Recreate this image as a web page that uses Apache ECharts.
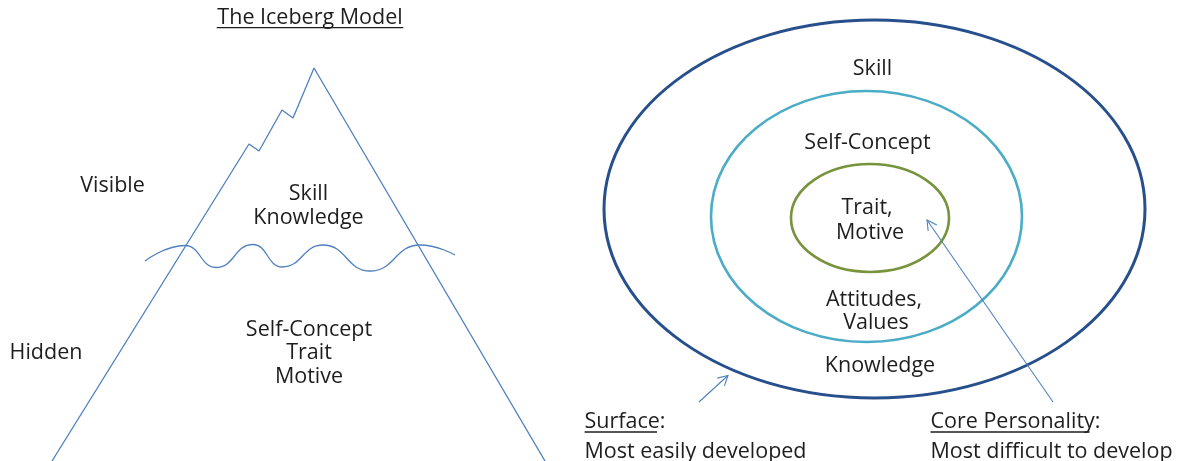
<!DOCTYPE html>
<html>
<head>
<meta charset="utf-8">
<script src="https://cdn.jsdelivr.net/npm/echarts@6/dist/echarts.min.js"></script>
<style>
html,body{margin:0;padding:0;background:#fff;}
#chart{width:1184px;height:461px;}
</style>
</head>
<body>
<div id="chart"></div>
<script>
// ---- data (diagram units = picture pixels, y downward) ----
const icebergOutline = [[52,461],[249,144],[259,151],[282,110],[293,118],[314,68],[545,461]];
const waterline = [[145,261],[185,245.5],[216,267.5],[253,244.5],[282,267],[323,245],[370,271],[420,245],[455,255]];

const ringNames   = ['Surface', 'Middle', 'Core'];
const ringCenterX = [874.5, 866.5, 870];
const ringCenterY = [209, 216.5, 218];
const ringRadiusX = [270.5, 155.5, 79];
const ringRadiusY = [189, 125.5, 54];

const labelTexts = ['The Iceberg Model','Visible','Skill','Knowledge','Self-Concept','Trait','Motive','Hidden',
                    'Skill','Self-Concept','Trait,','Motive','Attitudes,','Values','Knowledge',
                    'Surface:','Most easily developed','Core Personality:','Most difficult to develop'];
const labelX = [310,112.5,308.5,308.5,309,309,309,46, 872.5,867.5,867,870,874,876,880, 584.5,584.5,930.5,930.5];
const labelY = [18,186,194,218,330,353,377,353, 69,143,208,233,300,323,366, 421.6,451.7,421.6,451.7];
const labelLeft = [0,0,0,0,0,0,0,0, 0,0,0,0,0,0,0, 1,1,1,1];

const underlineStart = [216.7, 584.6, 930.5];
const underlineEnd   = [403.3, 657, 1089.6];
const underlineY     = [27.7, 432, 432];

const arrowTail = [[699,402],[1053,402]];
const arrowTip  = [[728,375.5],[927,220]];

// ---- styles ----
const ringColors = ['#264f8c', '#4bacc6', '#77933c'];
const ringWidths = [3, 2.6, 2.6];
const lineBlue = '#4f81bd';
const textColor = '#1e1e1e';
const FONT = '"Open Sans", "Noto Sans", sans-serif';
const ELLIPSE_PATH = 'M0,50 C0,22.386 22.386,0 50,0 C77.614,0 100,22.386 100,50 C100,77.614 77.614,100 50,100 C22.386,100 0,77.614 0,50 Z';

const chart = echarts.init(document.getElementById('chart'), null, {renderer:'canvas'});

const option = {
  animation: false,
  backgroundColor: '#ffffff',
  grid: {left:0, right:0, top:0, bottom:0},
  xAxis: {type:'value', min:0, max:1184, show:false},
  yAxis: {type:'value', min:0, max:461, inverse:true, show:false},
  series: [
    {
      type:'line', name:'iceberg', data: icebergOutline, symbol:'none', silent:true,
      lineStyle:{color:lineBlue, width:1.3}
    },
    {
      type:'line', name:'waterline', data: waterline, symbol:'none', smooth:0.5, smoothMonotone:'x', silent:true,
      lineStyle:{color:lineBlue, width:1.3}
    },
    {
      type:'custom', name:'rings', silent:true,
      data: ringNames.map((n,i)=>[ringCenterX[i], ringCenterY[i], ringRadiusX[i], ringRadiusY[i]]),
      renderItem: function(params, api){
        const cx=api.value(0), cy=api.value(1), rx=api.value(2), ry=api.value(3);
        const p1=api.coord([cx-rx, cy-ry]), p2=api.coord([cx+rx, cy+ry]);
        const i = params.dataIndex;
        return {
          type:'path',
          shape:{pathData:ELLIPSE_PATH, x:Math.min(p1[0],p2[0]), y:Math.min(p1[1],p2[1]),
                 width:Math.abs(p2[0]-p1[0]), height:Math.abs(p2[1]-p1[1]), layout:'cover'},
          style:{fill:'none', stroke:ringColors[i], lineWidth:ringWidths[i]}
        };
      }
    },
    {
      type:'custom', name:'underlines', silent:true,
      data: underlineY.map((y,i)=>[underlineStart[i], underlineEnd[i], y]),
      renderItem: function(params, api){
        const a=api.coord([api.value(0), api.value(2)]), b=api.coord([api.value(1), api.value(2)]);
        return {type:'line', shape:{x1:a[0], y1:a[1], x2:b[0], y2:b[1]},
                style:{stroke:textColor, lineWidth:1.3}};
      }
    },
    {
      type:'custom', name:'arrows', silent:true,
      data: arrowTail.map((t,i)=>[t[0], t[1], arrowTip[i][0], arrowTip[i][1]]),
      renderItem: function(params, api){
        const t=api.coord([api.value(0), api.value(1)]), h=api.coord([api.value(2), api.value(3)]);
        const ang=Math.atan2(t[1]-h[1], t[0]-h[0]);
        const L=11, s=0.5;
        const a1=[h[0]+L*Math.cos(ang+s), h[1]+L*Math.sin(ang+s)];
        const a2=[h[0]+L*Math.cos(ang-s), h[1]+L*Math.sin(ang-s)];
        return {type:'group', children:[
          {type:'line', shape:{x1:t[0], y1:t[1], x2:h[0], y2:h[1]}, style:{stroke:lineBlue, lineWidth:1.1}},
          {type:'polyline', shape:{points:[a1, h, a2]}, style:{stroke:lineBlue, lineWidth:1.1, fill:'none'}}
        ]};
      }
    },
    {
      type:'custom', name:'labels', silent:true,
      data: labelTexts.map((s,i)=>[labelX[i], labelY[i], i]),
      renderItem: function(params, api){
        const p=api.coord([api.value(0), api.value(1)]);
        const i=api.value(2);
        return {type:'text', x:p[0], y:p[1],
                style:{text:labelTexts[i], fill:textColor, fontSize:21.5, fontFamily:FONT,
                       align: labelLeft[i] ? 'left' : 'center', verticalAlign:'middle'}};
      }
    }
  ]
};
chart.setOption(option);
</script>
</body>
</html>
